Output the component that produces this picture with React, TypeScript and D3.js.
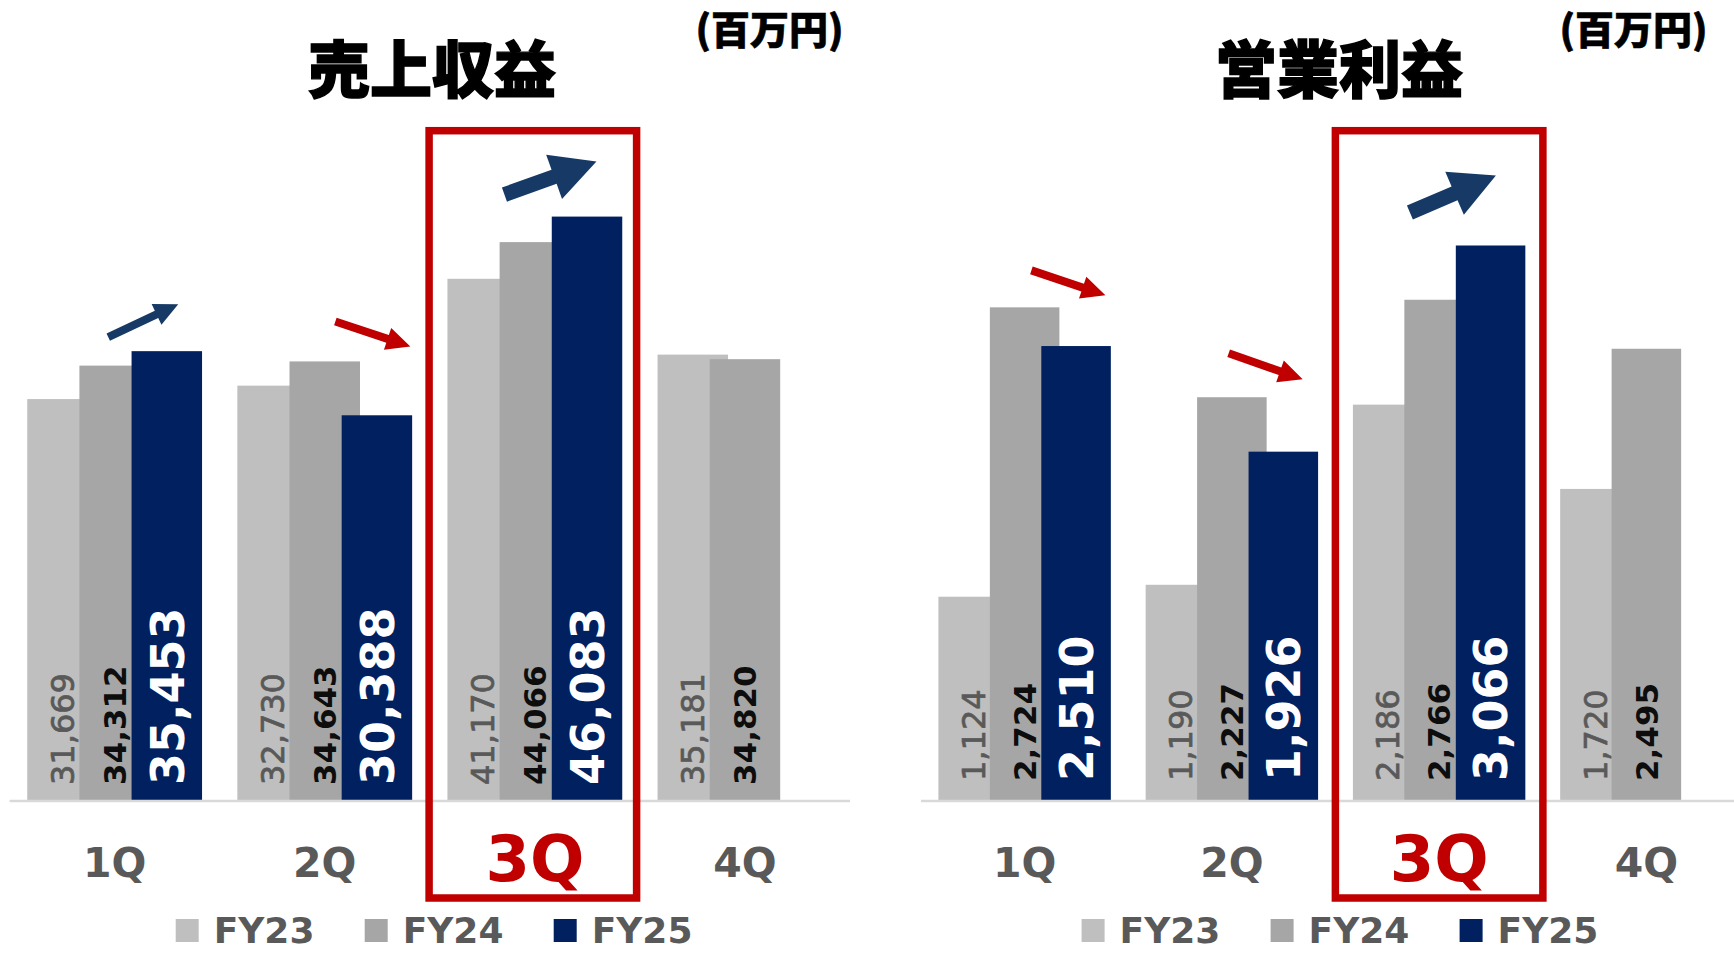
import React from 'react';
import * as d3 from 'd3';

const quarters = ['1Q', '2Q', '3Q', '4Q'];
const seriesNames = ['FY23', 'FY24', 'FY25'];
const seriesColors = ['#bfbfbf', '#a6a6a6', '#002060'];

// 売上収益 (百万円)
const revenueFY23 = [31669, 32730, 41170, 35181];
const revenueFY24 = [34312, 34643, 44066, 34820];
const revenueFY25 = [35453, 30388, 46083, null];

// 営業利益 (百万円)
const profitFY23 = [1124, 1190, 2186, 1720];
const profitFY24 = [2724, 2227, 2766, 2495];
const profitFY25 = [2510, 1926, 3066, null];

const BLUE = '#163a65';
const RED = '#c00000';

interface ArrowSpec {
  q: string;
  tail: [number, number]; // offset from band start / tallest bar top
  tip: [number, number];
  color: string;
  big?: boolean;
}

const revenueArrows: ArrowSpec[] = [
  { q: '1Q', tail: [81, -14], tip: [151, -47], color: BLUE },
  { q: '2Q', tail: [98, -40], tip: [173, -15], color: RED },
  { q: '3Q', tail: [57, -22], tip: [149, -55], color: BLUE, big: true },
];

const profitArrows: ArrowSpec[] = [
  { q: '1Q', tail: [93, -37], tip: [167, -12], color: RED },
  { q: '2Q', tail: [83, -44], tip: [157, -18], color: RED },
  { q: '3Q', tail: [57, -33], tip: [143, -70], color: BLUE, big: true },
];

const NUM_FONT = "'DejaVu Sans', Verdana, sans-serif";
const JP_FONT = "'Noto Sans CJK JP', sans-serif";
const fmt = d3.format(',');

function arrowPath(t: [number, number], p: [number, number], big?: boolean) {
  const sw = big ? 15 : 8;
  const hw = big ? 47 : 23;
  const hl = big ? 45 : 24;
  const dx = p[0] - t[0], dy = p[1] - t[1];
  const len = Math.hypot(dx, dy);
  const ux = dx / len, uy = dy / len;
  const nx = -uy, ny = ux;
  const bx = p[0] - ux * hl, by = p[1] - uy * hl;
  const pts: [number, number][] = [
    [t[0] + nx * sw / 2, t[1] + ny * sw / 2],
    [bx + nx * sw / 2, by + ny * sw / 2],
    [bx + nx * hw / 2, by + ny * hw / 2],
    p,
    [bx - nx * hw / 2, by - ny * hw / 2],
    [bx - nx * sw / 2, by - ny * sw / 2],
    [t[0] - nx * sw / 2, t[1] - ny * sw / 2],
  ];
  return d3.line()(pts) + 'Z';
}

interface PanelProps {
  title: string;
  series: (number | null)[][];
  yMax: number;
  xRange: [number, number];
  titleX: number;
  unitX: number;
  legendX: number;
  labelPad: number;
  boxShift: number;
  arrows: ArrowSpec[];
}

const Panel: React.FC<PanelProps> = ({ title, series, yMax, xRange, titleX, unitX, legendX, labelPad, boxShift, arrows }) => {
  const baseY = 800;
  const topY = 167;

  const x = d3.scaleBand<string>()
    .domain(quarters)
    .range(xRange)
    .paddingInner(0.168)
    .paddingOuter(0.084);

  const y = d3.scaleLinear().domain([0, yMax]).range([baseY, topY]);

  const bw = x.bandwidth();
  const overlap = 0.26;
  const barW = bw / (1 + 2 * (1 - overlap));
  const stepW = barW * (1 - overlap);

  const barX = (q: string, s: number) => (x(q) ?? 0) + s * stepW;

  const labelStyle = [
    { size: 32, weight: 400, fill: '#595959', stroke: 0.7 },
    { size: 31, weight: 700, fill: '#0d0d0d', stroke: 0 },
    { size: 46, weight: 700, fill: '#ffffff', stroke: 0 },
  ];

  const hlQ = '3Q';
  const boxW = 207.5;
  const boxCx = (x(hlQ) ?? 0) + bw / 2 + boxShift;

  return (
    <g>
      <text x={titleX} y={93} textAnchor="middle" fontFamily={JP_FONT} fontWeight={900} fontSize={62}
        fill="#000" stroke="#000" strokeWidth={1.4}>
        {title}
      </text>
      <text x={unitX} y={44} textAnchor="middle" fontFamily={JP_FONT} fontWeight={900} fontSize={39}
        fill="#000" stroke="#000" strokeWidth={0.6}>
        (百万円)
      </text>

      {series.map((vals, s) =>
        quarters.map((q, i) => {
          const v = vals[i];
          if (v == null) return null;
          return (
            <rect
              key={`b${s}-${q}`}
              x={barX(q, s)}
              y={y(v)}
              width={barW}
              height={baseY - y(v)}
              fill={seriesColors[s]}
            />
          );
        })
      )}

      {series.map((vals, s) =>
        quarters.map((q, i) => {
          const v = vals[i];
          if (v == null) return null;
          const st = labelStyle[s];
          const cx = barX(q, s) + barW / 2 + (st.size * 0.729) / 2;
          return (
            <text
              key={`l${s}-${q}`}
              transform={`translate(${cx},${baseY - labelPad}) rotate(-90)`}
              fontFamily={NUM_FONT}
              fontSize={st.size}
              fontWeight={st.weight}
              fill={st.fill}
              stroke={st.stroke ? st.fill : 'none'}
              strokeWidth={st.stroke}
            >
              {fmt(v)}
            </text>
          );
        })
      )}

      <line x1={xRange[0]} x2={xRange[1]} y1={baseY + 1} y2={baseY + 1} stroke="#d9d9d9" strokeWidth={2.5} />

      {quarters.map(q => {
        const hl = q === hlQ;
        return (
          <text
            key={`c${q}`}
            x={(x(q) ?? 0) + bw / 2}
            y={hl ? 881 : 877}
            textAnchor="middle"
            fontFamily={NUM_FONT}
            fontWeight={700}
            fontSize={hl ? 64 : 41}
            fill={hl ? RED : '#595959'}
          >
            {q}
          </text>
        );
      })}

      <rect
        x={boxCx - boxW / 2}
        y={130.7}
        width={boxW}
        height={898 - 130.7}
        fill="none"
        stroke={RED}
        strokeWidth={7.5}
      />

      {arrows.map((a, k) => {
        const i = quarters.indexOf(a.q);
        const top = d3.min(series.map(vals => vals[i]).filter(v => v != null).map(v => y(v as number))) ?? baseY;
        const x0 = x(a.q) ?? 0;
        const t: [number, number] = [x0 + a.tail[0], top + a.tail[1]];
        const p: [number, number] = [x0 + a.tip[0], top + a.tip[1]];
        return <path key={`a${k}`} d={arrowPath(t, p, a.big)} fill={a.color} />;
      })}

      {seriesNames.map((name, s) => (
        <g key={`lg${name}`} transform={`translate(${legendX + s * 189},0)`}>
          <rect x={0} y={919} width={23} height={23} fill={seriesColors[s]} />
          <text x={38} y={943} fontFamily={NUM_FONT} fontWeight={700} fontSize={36} fill="#595959">
            {name}
          </text>
        </g>
      ))}
    </g>
  );
};

const App: React.FC = () => (
  <>
    <style>{`body{margin:0;overflow:hidden}`}</style>
    <svg width={1734} height={953} style={{ display: 'block', background: '#fff' }}>
      <Panel
        title="売上収益"
        series={[revenueFY23, revenueFY24, revenueFY25]}
        yMax={50000}
        xRange={[9.6, 850]}
        titleX={432}
        unitX={769.5}
        legendX={175.7}
        labelPad={15}
        boxShift={-2}
        arrows={revenueArrows}
      />
      <Panel
        title="営業利益"
        series={[profitFY23, profitFY24, profitFY25]}
        yMax={3500}
        xRange={[921, 1750]}
        titleX={1339}
        unitX={1633.5}
        legendX={1081.6}
        labelPad={19}
        boxShift={0}
        arrows={profitArrows}
      />
    </svg>
  </>
);

export default App;
